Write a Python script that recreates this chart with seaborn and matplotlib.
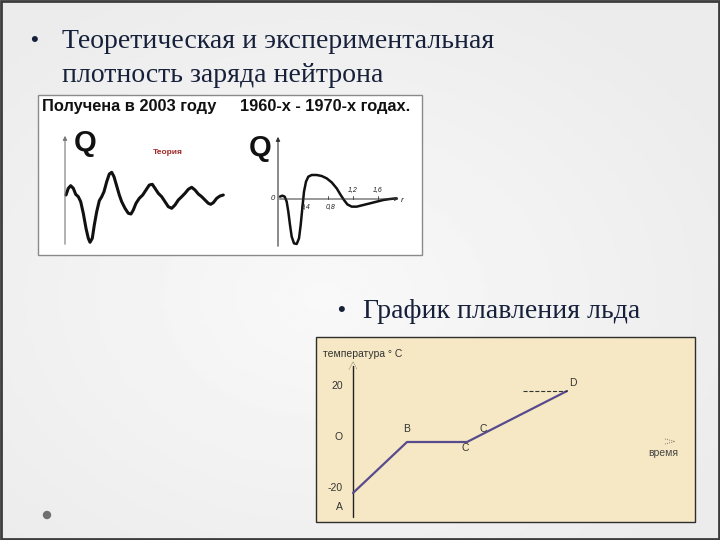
import numpy as np
import pandas as pd
import matplotlib
matplotlib.use("Agg")
import matplotlib.pyplot as plt
from matplotlib.patches import Rectangle, Circle
import seaborn as sns

# =====================================================
# DATA
# =====================================================

# theoretical charge density, arbitrary units
theory_x = [1.0, 3.3, 5.7, 8.3, 10.7, 13.3, 15.7, 18.3, 21.0, 23.3, 25.0, 27.3, 29.3,
            31.7, 34.3, 36.7, 39.0, 41.7, 44.3, 46.7, 49.0, 51.7, 54.3, 56.7, 60.0,
            63.3, 66.0, 68.3, 71.0, 74.3, 77.7, 81.0, 84.3, 87.3, 90.0, 93.3, 96.7,
            100.0, 103.3, 106.7, 110.0, 113.3, 116.7, 120.0, 123.3, 126.7, 130.0,
            133.3, 136.7, 140.0, 143.3, 145.7, 148.3, 151.7, 155.0, 158.3]
theory_q = [2.0, 8.7, 11.3, 8.7, 2.7, 0.3, -4.7, -16.3, -31.3, -41.3, -45.3, -41.3, -28.0,
            -14.7, -3.7, 0.3, 5.3, 15.3, 23.0, 24.7, 20.3, 11.0, 2.0, -4.7, -11.3,
            -16.3, -17.0, -13.0, -6.3, -1.3, 2.0, 7.0, 12.0, 12.7, 8.7, 3.7, 0.3,
            -4.7, -9.7, -11.3, -8.0, -3.0, 0.3, 3.7, 7.7, 9.7, 7.0,
            3.0, 0.3, -3.0, -6.3, -7.3, -5.7, -1.3, 1.0, 2.0]

# experimental charge density (1960-1970s), r in fm
exp_r = [0.032, 0.069, 0.107, 0.139, 0.165, 0.192, 0.219, 0.256, 0.299, 0.336, 0.363,
         0.389, 0.416, 0.448, 0.485, 0.539, 0.619, 0.699, 0.779, 0.859, 0.939, 1.003,
         1.056, 1.109, 1.179, 1.259, 1.365, 1.472, 1.579, 1.685, 1.792, 1.899]
exp_q = [0.047, 0.067, 0.047, -0.053, -0.253, -0.52, -0.753, -0.887, -0.90, -0.787, -0.52,
         -0.187, 0.147, 0.347, 0.447, 0.48, 0.48, 0.46, 0.413, 0.333, 0.213, 0.08,
         -0.02, -0.107, -0.153, -0.153, -0.12, -0.087, -0.053, -0.02, 0.0, 0.013]
exp_ticks = [0.4, 0.8, 1.2, 1.6]
exp_tick_labels = ["0,4", "0,8", "1,2", "1,6"]

# ice melting curve
ice_points = ["A", "B", "C", "D"]
ice_time = [0.0, 2.7, 5.7, 10.7]
ice_temp = [-20, 0, 0, 20]
ice_yticks = [20, 0, -20]
ice_ytick_labels = ["20", "O", "-20"]

# =====================================================
# FIGURE / BACKGROUND
# =====================================================

sns.set_style("white")
plt.rcParams["font.family"] = ["Liberation Sans", "DejaVu Sans"]

W, H = 720, 540
fig = plt.figure(figsize=(7.2, 5.4), dpi=100)


def px_axes(x0, y0, x1, y1):
    ax = fig.add_axes([x0 / W, 1 - y1 / H, (x1 - x0) / W, (y1 - y0) / H])
    ax.set_facecolor("none")
    ax.set_axis_off()
    return ax


bg = px_axes(0, 0, W, H)
bg.set_xlim(0, W)
bg.set_ylim(H, 0)

yy, xx = np.mgrid[0:1:200j, 0:1:200j]
shade = 0.975 - 0.05 * np.clip(np.hypot(xx - 0.45, yy - 0.55) * 1.6, 0, 1)
bg.imshow(shade, cmap="gray", vmin=0, vmax=1, extent=(0, W, H, 0), aspect="auto", zorder=0)
bg.add_patch(Rectangle((1, 1), W - 2, H - 2, fill=False, edgecolor="#3c3c3c", lw=2, zorder=5))
bg.add_patch(Circle((47, 515), 3.5, color="#707070", zorder=3))

serif = ["Liberation Serif", "DejaVu Serif"]
navy = "#16203a"
bg.text(30, 40, "•", fontsize=16, color=navy, va="center")
bg.text(62, 41, "Теоретическая и экспериментальная", fontsize=20, color=navy,
        family=serif, va="center")
bg.text(62, 75, "плотность заряда нейтрона", fontsize=20, color=navy,
        family=serif, va="center")
bg.text(337, 310, "•", fontsize=16, color=navy, va="center")
bg.text(363, 311, "График плавления льда", fontsize=20, color=navy,
        family=serif, va="center")

# picture boxes
bg.add_patch(Rectangle((38, 95), 384, 160, facecolor="white", edgecolor="#8a8a8a", lw=1, zorder=2))
bg.add_patch(Rectangle((316, 337), 379, 185, facecolor="#f6e8c4", edgecolor="#2e2e2e", lw=1, zorder=2))

bg.text(42, 107, "Получена в 2003 году", fontsize=11.8, fontweight="bold",
        color="#111111", va="center", zorder=4)
bg.text(240, 107, "1960-х - 1970-х годах.", fontsize=11.8, fontweight="bold",
        color="#111111", va="center", zorder=4)

# =====================================================
# LEFT PANEL - THEORY
# =====================================================

ax1 = px_axes(60, 128, 232, 252)
ax1.set_xlim(-5, 167)
ax1.set_ylim(-55, 69)
ax1.annotate("", xy=(0, 64), xytext=(0, -50),
             arrowprops=dict(arrowstyle="-|>", color="#777777", lw=0.8, mutation_scale=6))
ax1.text(9, 54, "Q", fontsize=21, fontweight="bold", color="#111111", va="center")
ax1.text(88, 44, "Теория", fontsize=6, fontweight="bold", color="#a02828", va="center")
sns.lineplot(x=theory_x, y=theory_q, sort=False, estimator=None, color="#111111",
             lw=2.2, ax=ax1, solid_joinstyle="round", solid_capstyle="round")
ax1.set_axis_off()

# =====================================================
# RIGHT PANEL - EXPERIMENT
# =====================================================

ax2 = px_axes(250, 128, 412, 252)
ax2.set_xlim((250 - 278) / 62.5, (412 - 278) / 62.5)
ax2.set_ylim((199 - 252) / 50, (199 - 128) / 50)
ax2.annotate("", xy=(0, 1.3), xytext=(0, -1.0),
             arrowprops=dict(arrowstyle="-|>", color="#333333", lw=0.8, mutation_scale=6))
ax2.annotate("", xy=(1.97, 0), xytext=(-0.02, 0),
             arrowprops=dict(arrowstyle="-|>", color="#333333", lw=0.7, mutation_scale=5))
ax2.text(-0.46, 1.03, "Q", fontsize=21, fontweight="bold", color="#111111", va="center")
ax2.text(-0.09, 0.02, "0", fontsize=5.5, style="italic", color="#222222", ha="center", va="center")
for t, lab in zip(exp_ticks, exp_tick_labels):
    ax2.plot([t, t], [0, 0.06], color="#333333", lw=0.6)
    if t < 1:
        ax2.text(t + 0.04, -0.15, lab, fontsize=5, style="italic", color="#222222",
                 ha="center", va="center")
    else:
        ax2.text(t, 0.19, lab, fontsize=5, style="italic", color="#222222",
                 ha="center", va="center")
ax2.text(1.98, -0.04, "r", fontsize=6, style="italic", color="#222222", ha="center", va="center")
sns.lineplot(x=exp_r, y=exp_q, sort=False, estimator=None, color="#111111", lw=1.8, ax=ax2,
             solid_joinstyle="round", solid_capstyle="round")
ax2.set_axis_off()

# =====================================================
# ICE MELTING
# =====================================================

ax3 = px_axes(316, 337, 695, 522)
ax3.set_xlim((316 - 353) / 20, (695 - 353) / 20)
k = 20 / 51
ax3.set_ylim((442 - 522) * k, (442 - 337) * k)
ax3.plot([0, 0], [-29.5, 30], color="#222222", lw=1.0)
ax3.plot([-0.2, 0, 0.2], [28.5, 31.5, 28.5], color="#555555", lw=0.6, ls=":")
ax3.text(-1.5, 34.5, "температура ° C", fontsize=7.5, color="#333333", va="center")
for v, lab in zip(ice_yticks, ice_ytick_labels):
    ax3.text(-0.5, v + 2, lab, fontsize=7.5, color="#333333", ha="right", va="center")
ax3.text(-0.5, -25.5, "A", fontsize=7.5, color="#333333", ha="right", va="center")

ice_df = pd.DataFrame({"time": ice_time, "temp": ice_temp, "point": ice_points})
sns.lineplot(data=ice_df, x="time", y="temp", sort=False, estimator=None,
             color="#574b8e", lw=1.6, ax=ax3)
ax3.plot([8.5, ice_time[3]], [ice_temp[3], ice_temp[3]], color="#333333", lw=0.8, ls="--")

ax3.text(ice_time[1], 5, "B", fontsize=7.5, color="#333333", ha="center", va="center")
ax3.text(ice_time[2] - 0.1, -2.5, "C", fontsize=7.5, color="#333333", ha="center", va="center")
ax3.text(ice_time[2] + 0.8, 5, "C", fontsize=7.5, color="#333333", ha="center", va="center")
ax3.text(ice_time[3] + 0.3, 23, "D", fontsize=7.5, color="#333333", ha="center", va="center")
ax3.plot([15.6, 16.1, 15.6], [1.2, 0.2, -0.8], color="#555555", lw=0.6, ls=":")
ax3.text(15.5, -4.3, "время", fontsize=7.5, color="#444444", ha="center", va="center")
ax3.set_axis_off()

fig.savefig("out.png", dpi=100)
